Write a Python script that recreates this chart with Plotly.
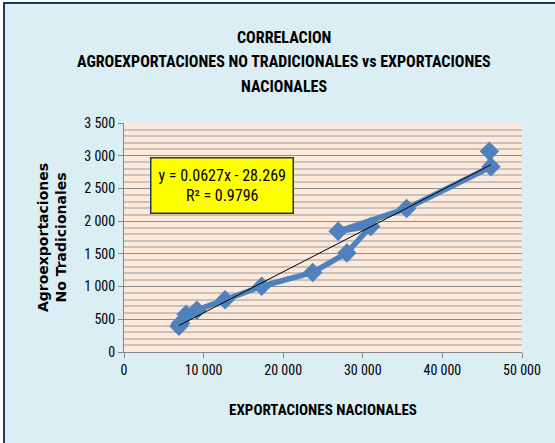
import plotly.graph_objects as go

# Data (2000-2012 sequence)
export_nacionales = [6900, 7100, 7800, 9150, 12700, 17300, 23700, 28000, 31000, 26900, 35500, 46100, 45900]
agroexport_no_trad = [395, 440, 575, 640, 800, 1005, 1215, 1515, 1920, 1845, 2195, 2830, 3070]

trend_slope = 0.0627
trend_intercept = -28.269
trend_label = "y = 0.0627x - 28.269<br>R² = 0.9796"

title_lines = ["CORRELACION", "AGROEXPORTACIONES NO TRADICIONALES vs EXPORTACIONES", "NACIONALES"]
x_title = "EXPORTACIONES NACIONALES"
y_title = "Agroexportaciones<br>No Tradicionales"

x_min, x_max = min(export_nacionales), max(export_nacionales)
trend_x = [x_min, x_max]
trend_y = [trend_slope * v + trend_intercept for v in trend_x]

narrow = "Liberation Sans Narrow, Arial Narrow, Roboto Condensed, Liberation Sans, sans-serif"

W, H = 555, 443
L, R, T, B = 124, 33, 123, 91
pw, ph = W - L - R, H - T - B


def px_to_paper_x(px):
    return (px - L) / pw


def px_to_paper_y(py):
    return (H - B - py) / ph


fig = go.Figure()
fig.add_trace(go.Scatter(
    x=export_nacionales, y=agroexport_no_trad, mode="lines+markers",
    line=dict(color="#4F81BD", width=5.5),
    marker=dict(symbol="diamond", size=15, color="#4F81BD"),
    showlegend=False, hoverinfo="skip"))
fig.add_trace(go.Scatter(
    x=trend_x, y=trend_y, mode="lines",
    line=dict(color="#000000", width=1),
    showlegend=False, hoverinfo="skip"))

title_y_px = [37, 61, 86]
annotations = [
    dict(x=px_to_paper_x(284), y=px_to_paper_y(yy), xref="paper", yref="paper",
         text=f"<b>{t}</b>", showarrow=False, xanchor="center", yanchor="middle",
         font=dict(family=narrow, size=16, color="#000000"))
    for t, yy in zip(title_lines, title_y_px)
]
annotations.append(dict(
    x=12300, y=2540, xref="x", yref="y", text=trend_label, showarrow=False,
    font=dict(family=narrow, size=16, color="#000000"),
    bgcolor="#FFFF00", bordercolor="#1F3A5A", borderwidth=1.5, borderpad=7, align="center"))

fig.update_layout(
    width=W, height=H,
    margin=dict(l=L, r=R, t=T, b=B),
    paper_bgcolor="white",
    plot_bgcolor="#FDE9D9",
    separators=". ",
    font=dict(family=narrow, color="#000000", size=13),
    shapes=[
        dict(type="rect", xref="paper", yref="paper",
             x0=px_to_paper_x(4), x1=px_to_paper_x(560), y0=px_to_paper_y(448), y1=px_to_paper_y(3),
             fillcolor="#DBEEF4", line=dict(color="#1F3A5A", width=2), layer="below"),
        dict(type="rect", xref="paper", yref="paper", x0=0, x1=1, y0=0, y1=1,
             fillcolor="#FDE9D9", line=dict(width=0), layer="below"),
    ],
    annotations=annotations,
)

fig.update_xaxes(
    range=[0, 50000], dtick=10000, tickformat=",d",
    showgrid=False, zeroline=False,
    showline=True, linecolor="#888888", linewidth=1,
    ticks="outside", ticklen=5, tickcolor="#888888",
    tickfont=dict(family=narrow, size=14),
    title=dict(text=f"<b>{x_title}</b>", font=dict(family=narrow, size=15), standoff=27),
)
fig.update_yaxes(
    range=[0, 3500], dtick=500, tickformat=",d",
    showgrid=True, gridcolor="#8C8C8C", gridwidth=1, zeroline=False,
    showline=True, linecolor="#888888", linewidth=1,
    ticks="outside", ticklen=5, tickcolor="#888888",
    minor=dict(dtick=100, showgrid=True, gridcolor="#C9C2BC", gridwidth=1.5),
    tickfont=dict(family=narrow, size=14),
    title=dict(text=f"<b>{y_title}</b>", font=dict(family="DejaVu Sans, Verdana, sans-serif", size=14), standoff=14),
)

fig.write_html("out.html", config={"displayModeBar": False},
               post_script="document.body.style.margin='0';document.body.style.overflow='hidden';")
